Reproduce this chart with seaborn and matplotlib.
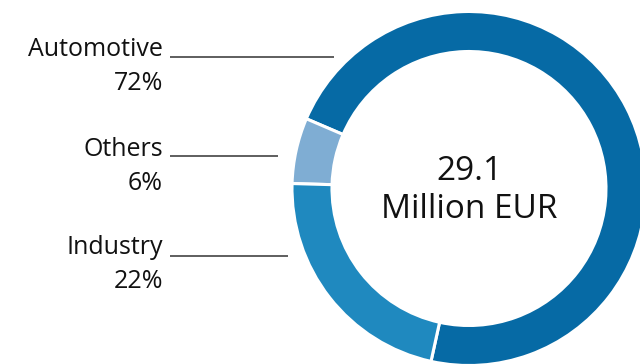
import numpy as np
import matplotlib
matplotlib.use("Agg")
import matplotlib.pyplot as plt
import seaborn as sns

# 데이터
CATEGORIES = ["Automotive", "Others", "Industry"]
SHARES = [72, 6, 22]
TOTAL = "29.1"
UNIT = "Million EUR"
COLORS = ["#066AA5", "#7FADD3", "#1F89BF"]

sns.set_theme(style="white")
plt.rcParams["font.family"] = ["Open Sans", "DejaVu Sans"]

W, H = 640, 364
CX, CY = 469, H - 188.5   # 도넛 중심 (픽셀 좌표, y 위쪽)
R_OUT, WIDTH = 177, 40

fig = plt.figure(figsize=(W / 100, H / 100), dpi=100)
ax = fig.add_axes([0, 0, 1, 1])

ax.pie(SHARES, colors=COLORS, startangle=257.6, counterclock=True,
       center=(CX, CY), radius=R_OUT,
       wedgeprops=dict(width=WIDTH, edgecolor="white", linewidth=2.2))

ax.text(CX, H - 172, TOTAL, ha="center", va="center", fontsize=24,
        color="#111111")
ax.text(CX, H - 209, UNIT, ha="center", va="center", fontsize=24,
        color="#111111")

# 라벨 + 지시선 (라벨 중심 y, 이미지 좌표)
label_y = [50, 149, 248]
line_y = [57, 156, 256]
for cat, share, ty, ly in zip(CATEGORIES, SHARES, label_y, line_y):
    ax.text(163, H - ty, cat, ha="right", va="center", fontsize=18,
            color="#111111")
    ax.text(163, H - ty - 34, f"{share}%", ha="right", va="center", fontsize=18,
            color="#111111")
    dy = CY - (H - ly)
    x_end = CX - np.sqrt(R_OUT ** 2 - dy ** 2) - 17
    ax.plot([170, x_end], [H - ly, H - ly], color="#333333", lw=1.1, solid_capstyle="butt")

ax.set_xlim(0, W)
ax.set_ylim(0, H)
ax.set_aspect("equal")
ax.axis("off")

fig.savefig("out.png", dpi=100)
